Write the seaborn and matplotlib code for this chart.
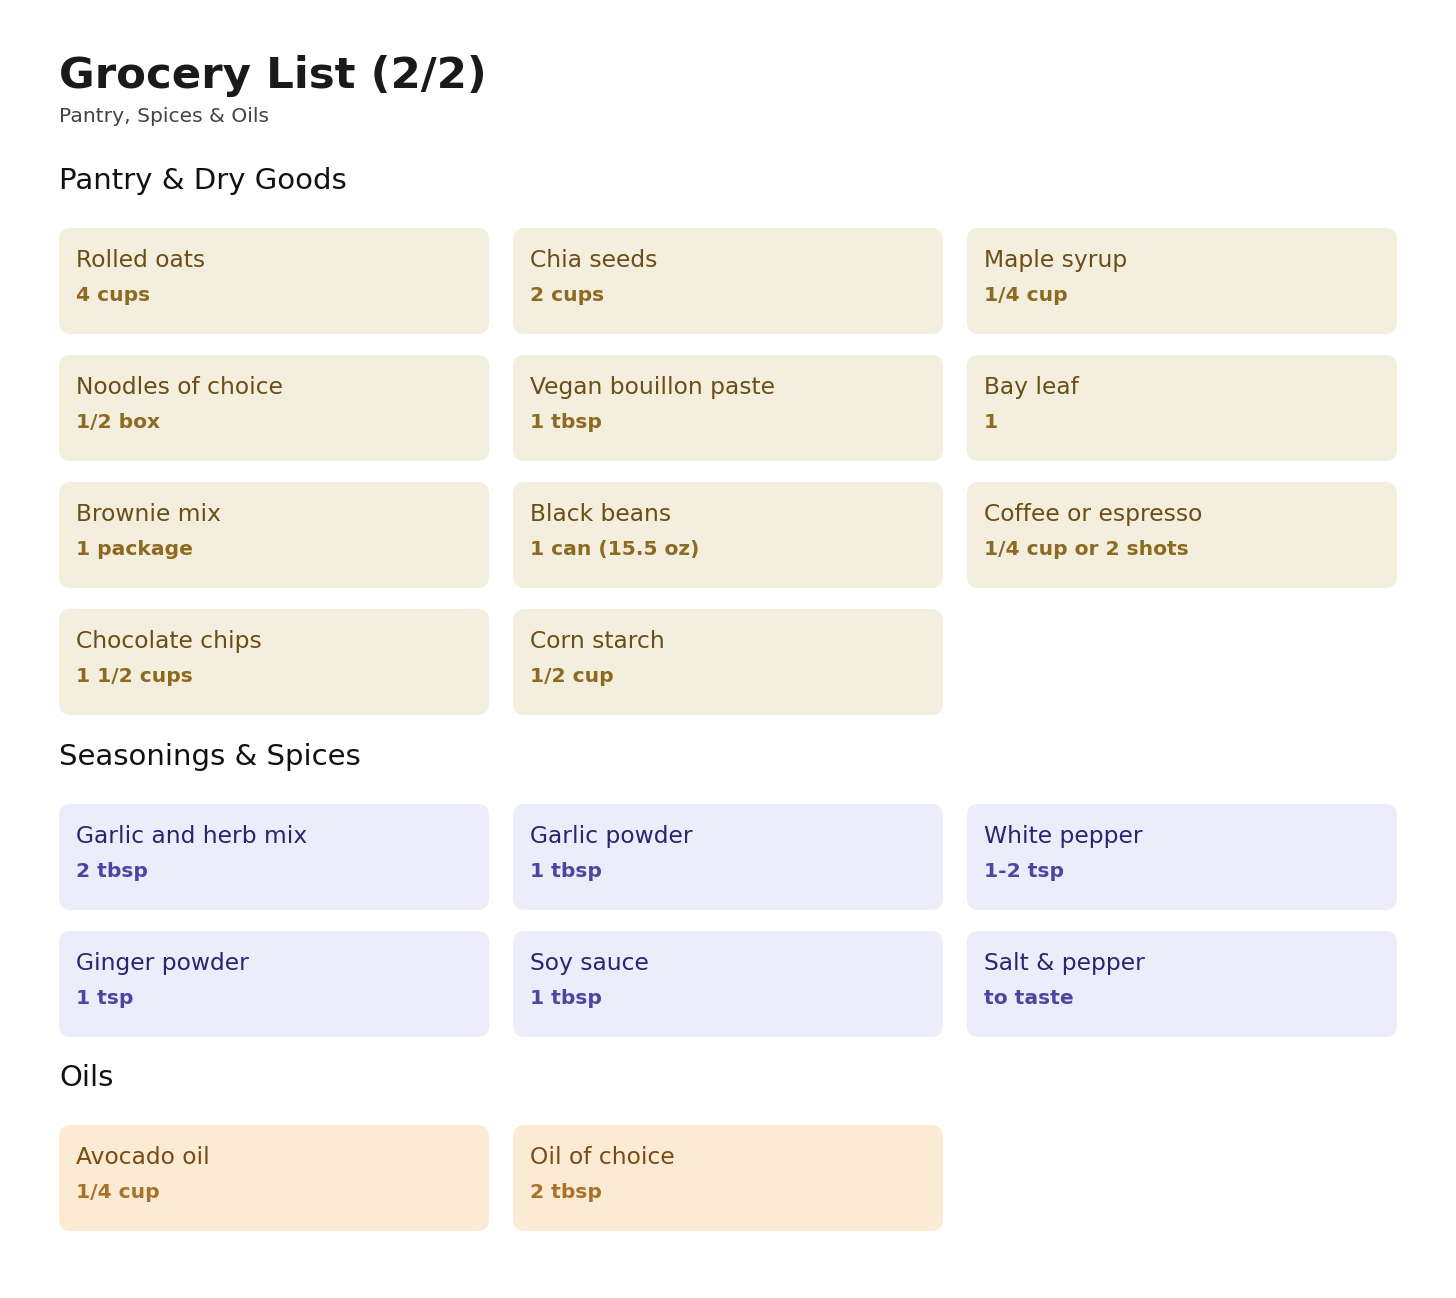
import matplotlib
matplotlib.use("Agg")
import matplotlib.pyplot as plt
import seaborn as sns
from matplotlib.patches import FancyBboxPatch

# Grocery data
pantry_items = ["Rolled oats", "Chia seeds", "Maple syrup",
                "Noodles of choice", "Vegan bouillon paste", "Bay leaf",
                "Brownie mix", "Black beans", "Coffee or espresso",
                "Chocolate chips", "Corn starch"]
pantry_qty = ["4 cups", "2 cups", "1/4 cup",
              "1/2 box", "1 tbsp", "1",
              "1 package", "1 can (15.5 oz)", "1/4 cup or 2 shots",
              "1 1/2 cups", "1/2 cup"]

spice_items = ["Garlic and herb mix", "Garlic powder", "White pepper",
               "Ginger powder", "Soy sauce", "Salt & pepper"]
spice_qty = ["2 tbsp", "1 tbsp", "1-2 tsp",
             "1 tsp", "1 tbsp", "to taste"]

oil_items = ["Avocado oil", "Oil of choice"]
oil_qty = ["1/4 cup", "2 tbsp"]

sections = [
    ("Pantry & Dry Goods", pantry_items, pantry_qty, "#F4EEDF", "#6B4E14", "#8C6A1F"),
    ("Seasonings & Spices", spice_items, spice_qty, "#EDECFB", "#2B2470", "#4E45A3"),
    ("Oils", oil_items, oil_qty, "#FCEBD4", "#7A4B12", "#A9712A"),
]

sns.set_theme(style="white")
plt.rcParams["font.family"] = ["DejaVu Sans"]

W, H = 1456, 1298
fig = plt.figure(figsize=(W / 100, H / 100), dpi=100)
ax = fig.add_axes([0, 0, 1, 1])
ax.set_xlim(0, W)
ax.set_ylim(H, 0)
ax.axis("off")

left = 59
card_w, card_h = 430, 106
col_step, row_step = 454, 127
section_gap = 68

ax.text(left, 88, "Grocery List (2/2)", fontsize=31.3, fontweight="bold",
        color="#1a1a1a", va="baseline")
ax.text(left, 122, "Pantry, Spices & Oils", fontsize=14.6, color="#444444",
        va="baseline")

top = 228
for title, items, qtys, bg, name_c, qty_c in sections:
    ax.text(left, top - 39, title, fontsize=21, color="#111111", va="baseline")
    for i, (name, qty) in enumerate(zip(items, qtys)):
        x = left + (i % 3) * col_step
        y = top + (i // 3) * row_step
        ax.add_patch(FancyBboxPatch((x, y), card_w, card_h,
                                    boxstyle="round,pad=0,rounding_size=12",
                                    facecolor=bg, edgecolor="none"))
        ax.text(x + 17, y + 39, name, fontsize=16.8, color=name_c, va="baseline")
        ax.text(x + 17, y + 73, qty, fontsize=14.6, fontweight="bold",
                color=qty_c, va="baseline")
    n_rows = (len(items) + 2) // 3
    top += n_rows * row_step + section_gap
    section_gap = 67

fig.savefig("out.png", dpi=100, facecolor="white")
